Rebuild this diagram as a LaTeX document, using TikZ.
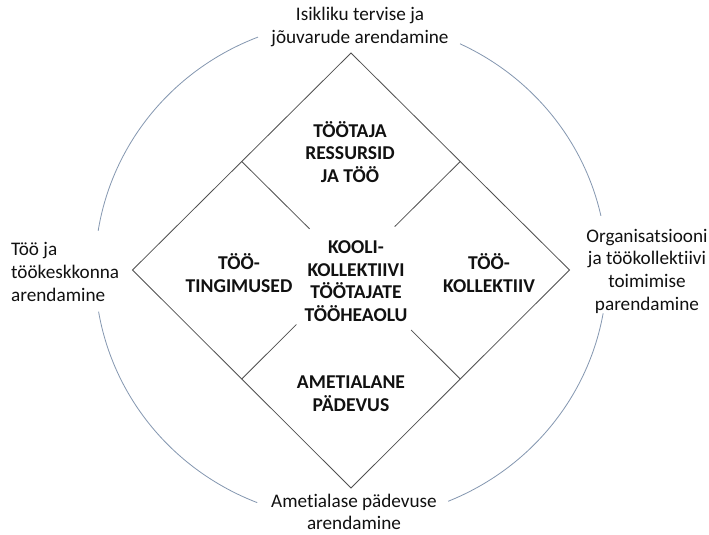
\documentclass[tikz,border=0pt]{standalone}
\usepackage{fontspec}
\setmainfont[Ligatures=NoCommon]{Carlito}
\usetikzlibrary{calc}
\definecolor{ringc}{HTML}{8497B0}
\definecolor{linec}{HTML}{505050}
\definecolor{txtc}{HTML}{111111}
\begin{document}
\begin{tikzpicture}[x=1pt,y=-1pt,
  lbl/.style={font=\fontsize{19.2}{22.7}\selectfont, align=center, inner sep=0pt, text=txtc},
  blbl/.style={lbl, font=\fontsize{19.6}{22.7}\selectfont\bfseries},
  ring/.style={draw=ringc, line width=0.8pt},
  dline/.style={draw=linec, line width=0.8pt, line join=miter}]
\useasboundingbox (0,0) rectangle (709,535);
\fill[white] (0,0) rectangle (709,535);
% centre and diamond corners
\coordinate (c) at (351,270);
\coordinate (dT) at (351,53);
\coordinate (dR) at (569.5,270);
\coordinate (dB) at (351,488);
\coordinate (dL) at (132.5,270);
\draw[dline] (dT) -- (dR) -- (dB) -- (dL) -- cycle;
% edge midpoints
\coordinate (mUL) at ($(dT)!0.5!(dL)$);
\coordinate (mUR) at ($(dT)!0.5!(dR)$);
\coordinate (mLL) at ($(dB)!0.5!(dL)$);
\coordinate (mLR) at ($(dB)!0.5!(dR)$);
\coordinate (eUL) at ($(mUL)!0.62!(c)$);
\coordinate (eUR) at ($(mUR)!0.60!(c)$);
\coordinate (eLL) at ($(mLL)!0.50!(c)$);
\coordinate (eLR) at ($(mLR)!0.45!(c)$);
\draw[dline] (mUL) -- (eUL);
\draw[dline] (mUR) -- (eUR);
\draw[dline] (mLL) -- (eLL);
\draw[dline] (mLR) -- (eLR);
% outer ring arcs
\draw[ring] (c) ++(-12.5:256 and 250) arc[start angle=-12.5, end angle=-64.8, x radius=256, y radius=250];
\draw[ring] (c) ++(-111.3:256 and 250) arc[start angle=-111.3, end angle=-171, x radius=256, y radius=250];
\draw[ring] (c) ++(-189.6:256 and 250) arc[start angle=-189.6, end angle=-248.5, x radius=256, y radius=250];
\draw[ring] (c) ++(-292.3:256 and 250) arc[start angle=-292.3, end angle=-350, x radius=256, y radius=250];
% inner labels
\node[blbl] (top) at (350,152) {TÖÖTAJA\\RESSURSID\\JA TÖÖ};
\node[blbl] (left) at (239,273) {TÖÖ-\\TINGIMUSED};
\node[blbl] (mid) at (356,281) {KOOLI-\\KOLLEKTIIVI\\TÖÖTAJATE\\TÖÖHEAOLU};
\node[blbl] (right) at (489,273) {TÖÖ-\\KOLLEKTIIV};
\node[blbl] (bot) at (351,394) {AMETIALANE\\PÄDEVUS};
% outer labels
\node[lbl] (otop) at (360,27) {Isikliku tervise ja\\jõuvarude arendamine};
\node[lbl] (obot) at (354,512) {Ametialase pädevuse\\arendamine};
\node[lbl, align=left, anchor=west] (oleft) at (11,272) {Töö ja\\töökeskkonna\\arendamine};
\node[lbl] (oright) at (647,271) {Organisatsiooni\\ja töökollektiivi\\toimimise\\parendamine};
\end{tikzpicture}
\end{document}
